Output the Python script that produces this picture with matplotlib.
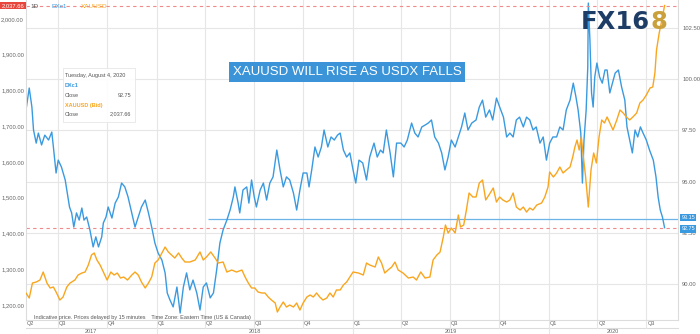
import matplotlib
matplotlib.use("Agg")
import matplotlib.pyplot as plt
import matplotlib.transforms as mtransforms
from matplotlib.patches import Rectangle
import pandas as pd

plt.rcParams['font.family'] = ['Liberation Sans', 'DejaVu Sans']

start = pd.Timestamp('2017-05-03')
end = pd.Timestamp('2020-08-29')

# DXc1 closes, sampled about weekly (days counted from start)
dx_days = [0, 6, 11, 14, 19, 23, 29, 35, 42, 48,
           51, 56, 60, 66, 73, 76, 81, 85, 89, 94,
           99, 104, 108, 113, 119, 125, 130, 135, 141, 144,
           149, 153, 160, 166, 172, 178, 184, 190, 197, 203,
           209, 215, 222, 228, 234, 240, 246, 253, 259, 263,
           268, 274, 281, 287, 293, 299, 305, 311, 318, 324,
           330, 336, 343, 349, 355, 361, 367, 374, 380, 386,
           389, 395, 398, 404, 411, 415, 420, 425, 429, 436,
           442, 448, 454, 460, 467, 473, 479, 485, 491, 498,
           504, 510, 516, 523, 527, 532, 538, 544, 550, 555,
           562, 568, 574, 580, 585, 591, 597, 603, 609, 614,
           620, 627, 634, 640, 648, 654, 660, 665, 671, 678,
           684, 690, 698, 704, 710, 718, 724, 730, 737, 743,
           749, 755, 761, 768, 774, 780, 786, 792, 799, 805,
           811, 817, 823, 830, 838, 844, 850, 856, 863, 869,
           876, 882, 889, 895, 901, 907, 913, 919, 926, 932,
           938, 944, 950, 957, 963, 969, 975, 981, 988, 994,
           1000, 1006, 1013, 1019, 1024, 1028, 1033, 1036, 1039, 1043,
           1046, 1047, 1050, 1053, 1056, 1059, 1063, 1068, 1073, 1078,
           1082, 1087, 1092, 1097, 1103, 1109, 1115, 1119, 1124, 1129,
           1134, 1139, 1144, 1149, 1155, 1161, 1168, 1173, 1177, 1181,
           1185, 1189]
dx_close = [98.50, 99.57, 98.64, 97.52, 96.88, 97.37, 96.79, 97.27, 97.03, 97.42,
            96.69, 95.42, 96.05, 95.71, 95.08, 94.59, 93.76, 93.47, 92.78, 93.47,
            93.12, 93.71, 93.12, 93.27, 92.64, 91.81, 92.30, 91.81, 92.30, 92.98,
            93.27, 93.76, 93.22, 93.95, 94.25, 94.93, 94.74, 94.25, 93.47, 92.78,
            93.27, 93.76, 94.10, 93.47, 92.78, 92.00, 91.51, 91.17, 90.54, 89.56,
            89.22, 88.88, 89.85, 88.58, 89.85, 90.54, 89.71, 90.19, 89.56, 88.73,
            89.85, 90.05, 89.32, 89.56, 90.68, 92.00, 92.64, 93.12, 93.61, 94.25,
            94.74, 93.95, 93.47, 94.59, 94.74, 93.95, 95.08, 94.25, 93.76, 94.59,
            94.93, 94.10, 94.93, 95.23, 96.54, 95.57, 94.74, 95.23, 95.08, 94.44,
            93.61, 94.59, 95.42, 95.42, 94.74, 95.57, 96.69, 96.20, 96.69, 97.52,
            96.69, 97.18, 97.03, 97.27, 97.37, 96.54, 96.20, 96.40, 95.57, 94.93,
            96.05, 95.91, 95.08, 96.20, 96.88, 96.20, 96.54, 96.40, 97.52, 96.40,
            95.23, 96.88, 96.88, 96.69, 97.03, 97.86, 97.37, 97.18, 97.67, 97.76,
            97.86, 98.01, 97.18, 96.88, 96.40, 95.57, 96.20, 97.03, 96.69, 97.18,
            97.67, 98.35, 97.52, 97.86, 98.01, 98.64, 98.98, 98.15, 98.50, 98.01,
            99.08, 98.64, 98.15, 97.18, 97.37, 97.18, 98.01, 98.15, 97.67, 98.15,
            98.01, 97.52, 97.67, 96.88, 97.18, 96.05, 96.88, 97.18, 97.18, 97.67,
            97.52, 98.50, 98.98, 99.81, 99.13, 98.50, 97.37, 94.93, 97.03, 98.50,
            100.60, 103.72, 101.91, 99.33, 98.64, 100.11, 100.79, 100.11, 99.81, 100.45,
            100.45, 99.33, 99.81, 100.30, 100.45, 99.62, 98.98, 97.67, 97.03, 96.40,
            97.52, 97.18, 97.67, 97.37, 97.03, 96.54, 96.05, 95.23, 94.25, 93.61,
            93.27, 92.75]

# XAUUSD bid closes
gold_days = [0, 6, 12, 19, 26, 32, 39, 45, 51, 57,
             63, 69, 76, 82, 91, 97, 104, 110, 116, 122,
             127, 132, 138, 144, 151, 158, 164, 170, 176, 182,
             189, 197, 203, 209, 215, 222, 228, 234, 240, 246,
             253, 259, 265, 271, 277, 284, 290, 296, 305, 315,
             324, 330, 336, 344, 352, 358, 367, 374, 383, 392,
             402, 408, 414, 420, 426, 432, 439, 445, 451, 457,
             464, 468, 473, 479, 485, 491, 498, 504, 510, 516,
             523, 529, 535, 541, 547, 553, 560, 566, 572, 578,
             585, 591, 597, 603, 609, 619, 628, 634, 640, 650,
             656, 662, 668, 674, 681, 687, 693, 702, 712, 721,
             727, 735, 743, 752, 758, 765, 771, 777, 781, 786,
             792, 799, 805, 809, 815, 820, 825, 832, 838, 844,
             850, 856, 862, 870, 876, 882, 888, 895, 901, 907,
             913, 920, 926, 932, 938, 944, 951, 960, 966, 972,
             975, 982, 988, 994, 1000, 1006, 1013, 1018, 1022, 1026,
             1030, 1034, 1037, 1042, 1047, 1052, 1057, 1062, 1067, 1072,
             1077, 1082, 1087, 1093, 1100, 1106, 1112, 1118, 1124, 1130,
             1137, 1143, 1149, 1155, 1162, 1167, 1171, 1174, 1179, 1184,
             1189]
gold_close = [1233.6, 1219.6, 1261.5, 1264.3, 1269.9, 1292.3, 1261.5, 1247.6, 1250.4, 1233.6,
              1214.0, 1222.4, 1250.4, 1261.5, 1269.9, 1283.9, 1289.5, 1292.3, 1311.9, 1339.9,
              1345.5, 1325.9, 1311.9, 1292.3, 1269.9, 1292.3, 1283.9, 1289.5, 1275.5, 1278.3,
              1269.9, 1283.9, 1292.3, 1283.9, 1264.3, 1247.6, 1261.5, 1278.3, 1317.5, 1325.9,
              1345.5, 1362.2, 1348.3, 1339.9, 1331.5, 1345.5, 1331.5, 1320.3, 1320.3, 1325.9,
              1348.3, 1325.9, 1334.3, 1348.3, 1331.5, 1317.5, 1320.3, 1292.3, 1297.9, 1292.3,
              1297.9, 1278.3, 1261.5, 1247.6, 1247.6, 1236.4, 1233.6, 1233.6, 1222.4, 1214.0,
              1205.6, 1180.4, 1194.4, 1208.4, 1194.4, 1200.0, 1194.4, 1205.6, 1186.0, 1205.6,
              1222.4, 1228.0, 1222.4, 1233.6, 1222.4, 1214.0, 1219.6, 1233.6, 1222.4, 1242.0,
              1242.0, 1256.0, 1264.3, 1278.3, 1292.3, 1289.5, 1283.9, 1317.5, 1311.9, 1306.3,
              1334.3, 1317.5, 1289.5, 1297.9, 1306.3, 1320.3, 1297.9, 1289.5, 1275.5, 1278.3,
              1269.9, 1292.3, 1275.5, 1278.3, 1325.9, 1339.9, 1348.3, 1390.2, 1423.8, 1401.4,
              1415.4, 1401.4, 1451.7, 1418.2, 1423.8, 1465.7, 1513.3, 1502.1, 1502.1, 1541.2,
              1549.6, 1493.7, 1507.7, 1527.3, 1488.1, 1502.1, 1493.7, 1488.1, 1493.7, 1513.3,
              1474.1, 1465.7, 1474.1, 1460.1, 1471.3, 1465.7, 1479.7, 1485.3, 1502.1, 1530.1,
              1572.0, 1558.0, 1569.2, 1586.0, 1569.2, 1577.6, 1586.0, 1614.0, 1641.9, 1661.5,
              1633.5, 1669.9, 1625.2, 1558.0, 1474.1, 1577.6, 1625.2, 1597.2, 1669.9, 1717.5,
              1709.1, 1725.9, 1709.1, 1689.5, 1717.5, 1745.4, 1737.0, 1725.9, 1717.5, 1725.9,
              1737.0, 1765.0, 1773.4, 1787.4, 1807.0, 1809.8, 1848.9, 1913.2, 1960.8, 1997.2,
              2037.66]

gold_ticks = [1200, 1300, 1400, 1500, 1600, 1700, 1800, 1900, 2000]
dx_ticks = [90.0, 92.5, 95.0, 97.5, 100.0, 102.5]
quarters = pd.date_range('2017-07-01', '2020-07-01', freq='QS')
years = [2017, 2018, 2019, 2020]

support_level = 93.15
support_from = pd.Timestamp('2018-04-07')
dx_last = dx_close[-1]
gold_last = gold_close[-1]

BLUE = '#3a9ae0'
ORANGE = '#f9a61e'
GRID = '#e6e6e6'
TXT = '#666666'

dx_dates = start + pd.to_timedelta(dx_days, unit='D')
gold_dates = start + pd.to_timedelta(gold_days, unit='D')

W, H = 700, 334


def fxy(x, y):
    # pixel position -> figure fraction
    return x / W, 1 - y / H


fig = plt.figure(figsize=(7, 3.34), dpi=100)
L, R, TOP, BOT = 26, 678, 0, 320
ax = fig.add_axes([L / W, 1 - BOT / H, (R - L) / W, (BOT - TOP) / H])
ax2 = ax.twinx()
ax.set_zorder(ax2.get_zorder() + 1)
ax.patch.set_visible(False)

ax.set_xlim(start, end)
ax.set_ylim(1158.1, 2053.1)
ax2.set_ylim(88.24, 103.87)

# grid: dollar index levels + quarter starts
for t in dx_ticks:
    ax2.axhline(t, color=GRID, lw=0.8, zorder=0)
for q in quarters:
    ax2.axvline(q, color=GRID, lw=0.8, zorder=0)

ax2.plot(dx_dates, dx_close, color=BLUE, lw=1.0, zorder=3)
ax.plot(gold_dates, gold_close, color=ORANGE, lw=1.0, zorder=3)

# last price lines
ax.axhline(gold_last, color='#f08a8a', lw=0.8, ls=(0, (3, 3)), zorder=2)
ax2.axhline(dx_last, color='#f08a8a', lw=0.8, ls=(0, (3, 3)), zorder=2)
ax2.hlines(support_level, support_from, end, color='#6cb4e8', lw=0.9, zorder=2)

# axes styling
for a in (ax, ax2):
    a.set_xticks([])
    for s in a.spines.values():
        s.set_visible(False)
for side in ('left', 'right', 'bottom'):
    ax.spines[side].set_visible(True)
    ax.spines[side].set_color('#dcdcdc')
    ax.spines[side].set_linewidth(0.8)

ax.set_yticks(gold_ticks)
ax.set_yticklabels([f'{v:,.2f}' for v in gold_ticks])
ax.tick_params(axis='y', length=0, pad=1.5, labelsize=4.2, labelcolor=TXT)
ax2.set_yticks(dx_ticks)
ax2.set_yticklabels([f'{v:.2f}' for v in dx_ticks])
ax2.tick_params(axis='y', length=0, pad=3, labelsize=4.2, labelcolor=TXT)

# price tags on the axes
ytr_l = mtransforms.blended_transform_factory(ax.transAxes, ax.transData)
ytr_r = mtransforms.blended_transform_factory(ax2.transAxes, ax2.transData)
ax.text(-0.003, gold_last, f'{gold_last:,.2f}', transform=ytr_l, ha='right', va='center',
        fontsize=4.2, color='white', clip_on=False,
        bbox=dict(boxstyle='square,pad=0.25', fc='#e8453c', ec='none'))
ax2.text(1.005, support_level + 0.08, f'{support_level:.2f}', transform=ytr_r, ha='left',
         va='center', fontsize=4.0, color='white', clip_on=False, zorder=5,
         bbox=dict(boxstyle='square,pad=0.2', fc='#3a9ae0', ec='none'))
ax2.text(1.005, dx_last - 0.06, f'{dx_last:.2f}', transform=ytr_r, ha='left',
         va='center', fontsize=4.0, color='white', clip_on=False, zorder=5,
         bbox=dict(boxstyle='square,pad=0.2', fc='#3a9ae0', ec='none'))

# quarter / year bands under the plot
xtr = mtransforms.blended_transform_factory(ax.transData, ax.transAxes)
qb, yb = -8 / (BOT - TOP), -14 / (BOT - TOP)
ax.plot([0, 1], [qb, qb], transform=ax.transAxes, color='#dcdcdc', lw=0.8, clip_on=False)
for q in quarters:
    ax.plot([q, q], [0, qb], transform=xtr, color=GRID, lw=0.8, clip_on=False)
q_labels = [(start, 'Q2')] + [(q, f'Q{q.quarter}') for q in quarters]
for d, lab in q_labels:
    ax.text(d + pd.Timedelta(days=2), qb / 2, lab, transform=xtr, ha='left', va='center',
            fontsize=4.0, color=TXT, clip_on=False)
for y in years:
    a = max(pd.Timestamp(f'{y}-01-01'), start)
    b = min(pd.Timestamp(f'{y + 1}-01-01'), end)
    if y > years[0]:
        ax.plot([a, a], [qb, yb], transform=xtr, color=GRID, lw=0.8, clip_on=False)
    ax.text(a + (b - a) / 2, (qb + yb) / 2 - 0.002, str(y), transform=xtr, ha='center',
            va='center', fontsize=4.0, color=TXT, clip_on=False)

ax.text(0.0125, 0.009, 'Indicative price. Prices delayed by 15 minutes    '
        'Time Zone: Eastern Time (US & Canada)', transform=ax.transAxes,
        ha='left', va='center', fontsize=4.0, color='#555555')

# header row
fig.text(*fxy(30, 6), '1D', ha='left', va='center', fontsize=4.6, color='#555555')
fig.text(*fxy(51, 6), 'DXc1', ha='left', va='center', fontsize=4.6, color=BLUE)
fig.text(*fxy(81, 6), 'XAUUSD', ha='left', va='center', fontsize=4.6, color=ORANGE)

# hover box
x0, y0 = fxy(63, 122)
fig.patches.append(Rectangle((x0, y0), 72 / W, 54 / H, transform=fig.transFigure,
                             fc='white', ec='#e4e4e4', lw=0.6, alpha=0.9, zorder=4))
fig.text(*fxy(65, 75), 'Tuesday, August 4, 2020', fontsize=4.0, color='#555555',
         va='center', zorder=5)
fig.text(*fxy(65, 86), 'DXc1', fontsize=4.0, color=BLUE, va='center',
         fontweight='bold', zorder=5)
fig.text(*fxy(65, 95), 'Close', fontsize=4.0, color='#555555', va='center', zorder=5)
fig.text(*fxy(131, 95), f'{dx_last:.2f}', fontsize=4.0, color='#555555', va='center',
         ha='right', zorder=5)
fig.text(*fxy(65, 105), 'XAUUSD (Bid)', fontsize=4.0, color=ORANGE, va='center',
         fontweight='bold', zorder=5)
fig.text(*fxy(65, 114), 'Close', fontsize=4.0, color='#555555', va='center', zorder=5)
fig.text(*fxy(131, 114), f'{gold_last:,.2f}', fontsize=4.0, color='#555555', va='center',
         ha='right', zorder=5)

# headline
fig.text(*fxy(347, 72), 'XAUUSD WILL RISE AS USDX FALLS', ha='center', va='center',
         fontsize=9.5, color='white', zorder=5,
         bbox=dict(boxstyle='square,pad=0.28', fc='#3c94d8', ec='none'))

# logo
fig.text(*fxy(650, 22), 'FX16', ha='right', va='center', fontsize=17.5,
         family='DejaVu Sans', fontweight='bold', color='#1d3c66', zorder=5)
fig.text(*fxy(650, 22), '8', ha='left', va='center', fontsize=17.5,
         family='DejaVu Sans', fontweight='bold', color='#c9a03c', zorder=5)

fig.savefig('out.png', dpi=100)
